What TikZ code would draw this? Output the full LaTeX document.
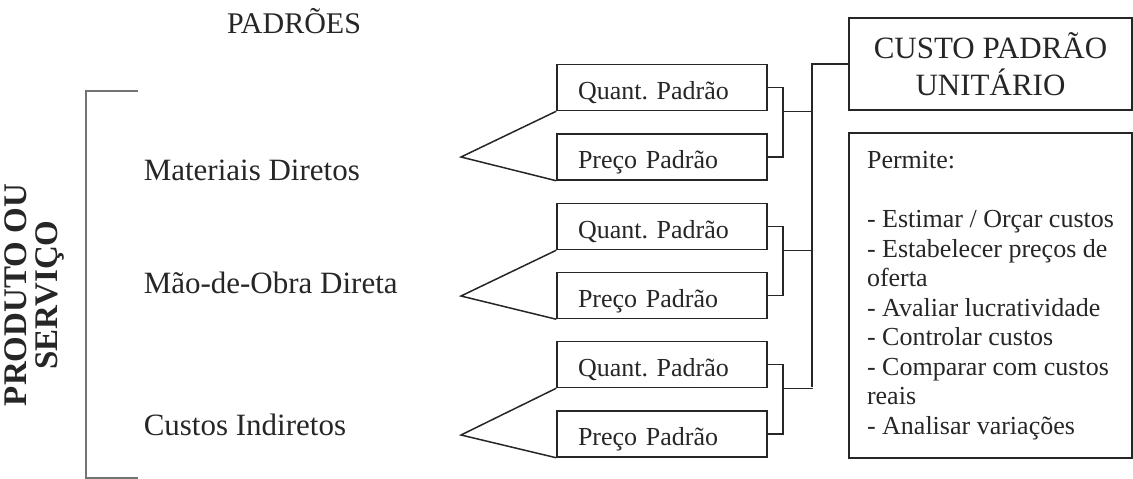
\documentclass[tikz,border=0pt]{standalone}
\usepackage{fontspec}
\setmainfont{Liberation Serif}

\begin{document}
\begin{tikzpicture}[x=1pt, y=-1pt, line width=1.5pt, color=black!85,
	pbox/.style={draw, rectangle, minimum width=210pt, minimum height=46pt, text width=168pt, align=left, inner xsep=21pt, inner ysep=5.5pt, text height=29pt, text depth=6pt, font=\fontsize{26}{30}\selectfont},
	item/.style={anchor=base west, inner sep=0pt, font=\fontsize{31}{36}\selectfont}]
	\useasboundingbox (0,0) rectangle (1133,479);
	\node[anchor=base, inner sep=0pt, font=\fontsize{30}{36}\selectfont] (pad) at (294,33) {PADRÕES};
	\node[rotate=90, align=center, inner sep=0pt, font=\bfseries\fontsize{33}{27}\selectfont] (prod) at (34,295) {PRODUTO OU\\[4pt]SERVIÇO};
	\coordinate (b1) at (138,91);
	\coordinate (b2) at (86,91);
	\coordinate (b3) at (86,478);
	\coordinate (b4) at (138,478);
	\draw[black!55, line width=2.5pt] (b1) -- (b2) -- (b3) -- (b4);
	\node[item] (mat) at (143,180) {Materiais Diretos};
	\node[item] (mao) at (143,293) {Mão-de-Obra Direta};
	\node[item] (ci) at (143,435) {Custos Indiretos};
	\node[pbox] (q1) at (662,87.5) {Quant.\ Padrão};
	\node[pbox] (p1) at (662,157) {Preço Padrão};
	\node[pbox] (q2) at (662,226.5) {Quant.\ Padrão};
	\node[pbox] (p2) at (662,295.5) {Preço Padrão};
	\node[pbox] (q3) at (662,364.5) {Quant.\ Padrão};
	\node[pbox] (p3) at (662,434) {Preço Padrão};
	\coordinate (t1) at (461,157);
	\coordinate (t2) at (461,296);
	\coordinate (t3) at (461,435);
	\draw (q1.south west) -- (t1) -- (p1.south west);
	\draw (q2.south west) -- (t2) -- (p2.south west);
	\draw (q3.south west) -- (t3) -- (p3.south west);
	\draw (q1.east) -- ++(15,0) |- (p1.east);
	\draw (q2.east) -- ++(15,0) |- (p2.east);
	\draw (q3.east) -- ++(15,0) |- (p3.east);
	\draw ([xshift=15pt]q1.south east) -- ++(30,0);
	\draw ([xshift=15pt]q2.south east) -- ++(30,0);
	\draw ([xshift=15pt]q3.south east) -- ++(30,0);
	\node[draw, minimum width=283pt, minimum height=92pt, align=center, font=\fontsize{31}{37}\selectfont] (custo) at (990.5,64) {CUSTO PADRÃO\\UNITÁRIO};
	\node[draw, minimum width=283pt, minimum height=325pt, align=left, font=\fontsize{26}{29.5}\selectfont] (perm) at (990.5,295.5) {Permite:\\[29.5pt]- Estimar / Orçar custos\\- Estabelecer preços de\\oferta\\- Avaliar lucratividade\\- Controlar custos\\- Comparar com custos\\reais\\- Analisar variações};
	\coordinate (s) at (812,387);
	\draw (custo.west) -| (s);
\end{tikzpicture}
\end{document}
